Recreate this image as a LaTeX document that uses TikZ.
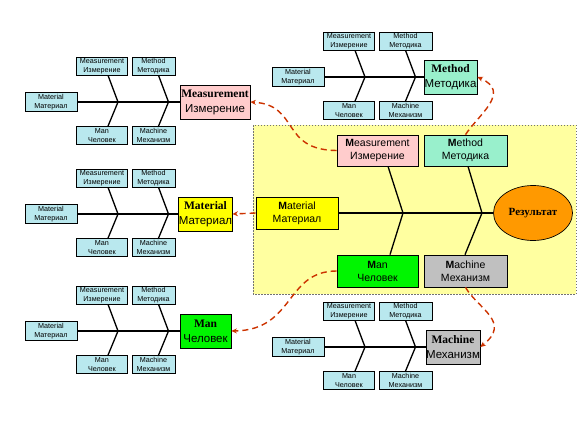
\documentclass[tikz,border=0pt]{standalone}
\usepackage{fontspec}
\setmainfont{Liberation Sans}
\newfontfamily\serifb{Liberation Serif}
\usetikzlibrary{arrows.meta,calc,shapes.geometric}
\definecolor{pinkc}{RGB}{255,204,204}
\definecolor{mintc}{RGB}{153,240,204}
\definecolor{yellowc}{RGB}{255,255,0}
\definecolor{greenc}{RGB}{0,245,0}
\definecolor{grayc}{RGB}{192,192,192}
\definecolor{orangec}{RGB}{255,153,0}
\definecolor{smallc}{RGB}{185,232,238}
\definecolor{bgc}{RGB}{255,255,160}
\definecolor{arrowc}{RGB}{204,51,0}
\tikzset{
  smallbox/.style={draw=black, line width=0.7pt, fill=smallc, inner sep=0pt, minimum height=18pt, align=center, font=\fontsize{7.2}{8.6}\selectfont},
  headbox/.style={draw=black, line width=0.7pt, inner sep=0pt, minimum height=34pt, align=center, font=\fontsize{11.5}{15}\selectfont},
  mainbox/.style={draw=black, line width=0.7pt, inner sep=0pt, minimum height=31pt, align=center, font=\fontsize{10.5}{13}\selectfont},
  bone/.style={line width=1.3pt},
  redarrow/.style={draw=arrowc, line width=1.4pt, dash pattern=on 6pt off 4pt, -{Stealth[length=5.5pt,width=5pt]}},
  bgbox/.style={draw=black!55, fill=bgc, line width=0.6pt, dash pattern=on 1.5pt off 1.5pt}
}
% #1 prefix, #2 x0, #3 y0, #4 method width, #5 head centre x, #6 head width, #7 fill, #8 top text, #9 bottom text
\newcommand\subfish[9]{%
  \node[smallbox, minimum width=51pt] (#1meas) at (#2+25, #3-36) {Measurement\\Измерение};
  \node[smallbox, minimum width=#4pt] (#1meth) at (#2+55+#4/2, #3-36) {Method\\Методика};
  \node[smallbox, minimum width=52pt, minimum height=19.5pt] (#1mat) at (#2-26, #3) {Material\\Материал};
  \node[smallbox, minimum width=51pt] (#1man) at (#2+25, #3+33.5) {Man\\Человек};
  \node[smallbox, minimum width=#4pt] (#1mach) at (#2+55+#4/2, #3+33.5) {Machine\\Механизм};
  \node[headbox, fill=#7, minimum width=#6pt] (#1head) at (#5, #3) {{\serifb\bfseries #8}\\#9};
  \coordinate (#1ja) at (#2+41, #3);
  \coordinate (#1jb) at (#2+91.5, #3);
  \coordinate (#1ta) at (#2+31, #3);
  \coordinate (#1tb) at (#2+81.5, #3);
  \draw[bone] (#1mat.east) -- (#1head.west);
  \draw[bone] (#1ta |- #1meas.south) -- (#1ja);
  \draw[bone] (#1ta |- #1man.north) -- (#1ja);
  \draw[bone] (#1tb |- #1meth.south) -- (#1jb);
  \draw[bone] (#1tb |- #1mach.north) -- (#1jb);
}
\begin{document}
\begin{tikzpicture}[x=1pt, y=-1pt]
\useasboundingbox (0,0) rectangle (578,434);
% main diagram
\draw[bgbox] (253,125) rectangle (576,294);
\node[mainbox, fill=pinkc, minimum width=81pt] (mMeas) at (377.5,150.5) {\textbf{M}easurement\\Измерение};
\node[mainbox, fill=mintc, minimum width=83pt] (mMeth) at (465.5,150.5) {\textbf{M}ethod\\Методика};
\node[mainbox, fill=yellowc, minimum width=82pt, minimum height=32pt] (mMat) at (297,213) {\textbf{M}aterial\\Материал};
\node[mainbox, fill=greenc, minimum width=81pt, minimum height=32pt] (mMan) at (377.5,271) {\textbf{M}an\\Человек};
\node[mainbox, fill=grayc, minimum width=83pt, minimum height=32pt] (mMach) at (465.5,271) {\textbf{M}achine\\Механизм};
\node[ellipse, draw=black, line width=0.7pt, fill=orangec, minimum width=79pt, minimum height=55pt, inner sep=0pt, font=\serifb\bfseries\fontsize{11}{13}\selectfont] (res) at (533,213) {Результат};
\coordinate (mja) at (403,213);
\coordinate (mjb) at (482,213);
\coordinate (mta) at (388,213);
\coordinate (mtb) at (390,213);
\coordinate (mtc) at (468,213);
\coordinate (mtd) at (465,213);
\draw[bone] (mMat.east) -- (res.west);
\draw[bone] (mta |- mMeas.south) -- (mja);
\draw[bone] (mtb |- mMan.north) -- (mja);
\draw[bone] (mtc |- mMeth.south) -- (mjb);
\draw[bone] (mtd |- mMach.north) -- (mjb);
% sub diagrams
\subfish{a}{77}{102}{43}{215}{70}{pinkc}{Measurement}{Измерение}
\subfish{b}{324}{77}{53}{450.5}{53}{mintc}{Method}{Методика}
\subfish{c}{77}{214}{43}{205.5}{51}{yellowc}{Material}{Материал}
\subfish{d}{77}{331}{43}{205.5}{51}{greenc}{Man}{Человек}
\subfish{e}{324}{347}{53}{453}{52}{grayc}{Machine}{Механизм}
% arrows
\draw[redarrow] (mMeas.west) .. controls (280,150) and (300,105) .. (ahead.east);
\draw[redarrow] (mMeth.north) .. controls (478,115) and (512,92) .. (bhead.east);
\draw[redarrow] (mMat.west) -- (chead.east);
\draw[redarrow] (mMan.west) .. controls (285,271) and (295,330) .. (dhead.east);
\draw[redarrow] (mMach.south) .. controls (478,309) and (512,322) .. (ehead.east);
\end{tikzpicture}
\end{document}
